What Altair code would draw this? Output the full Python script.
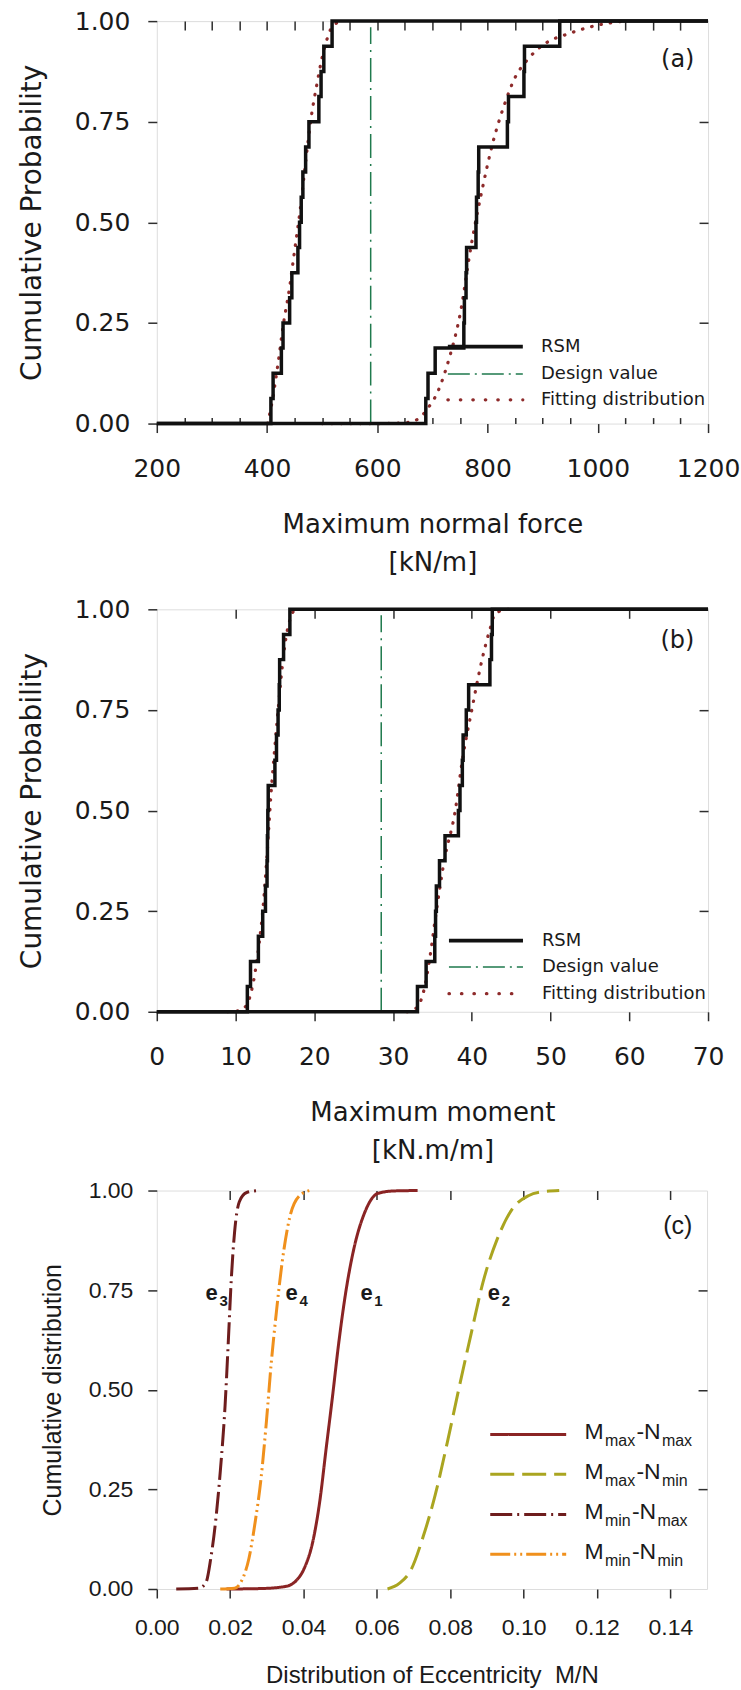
import altair as alt
import pandas as pd

# ---------------- panel (a): maximum normal force [kN/m] ----------------
a_rsm_first = [407, 411, 426, 429, 441, 445, 456, 459, 462, 465, 470, 476, 494, 498, 503, 518]
a_rsm_second = [688, 692, 705, 757, 758, 761, 762, 779, 780, 783, 784, 836, 838, 866, 867, 931]
a_fit_first_x = [401, 410, 420, 430, 440, 450, 460, 470, 480, 490, 500, 510, 520, 538]
a_fit_first_p = [0.0, 0.06, 0.15, 0.25, 0.33, 0.43, 0.53, 0.65, 0.76, 0.84, 0.91, 0.96, 0.99, 1.0]
a_fit_second_x = [500, 600, 650, 675, 690, 710, 730, 750, 770, 790, 810, 830, 850, 870, 900, 950, 1000, 1050]
a_fit_second_p = [0.0, 0.0, 0.002, 0.012, 0.035, 0.08, 0.16, 0.27, 0.44, 0.58, 0.70, 0.79, 0.86, 0.90, 0.94, 0.97, 0.99, 1.0]
a_design = 588
a_domain = [200, 1200]
a_ticks = [200, 400, 600, 800, 1000, 1200]
a_top_ticks = [250, 300, 350, 400, 450, 500, 550, 600, 650, 700, 750, 800, 850, 900, 950, 1000, 1050, 1100, 1150]
a_minor_ticks = [250, 300, 350, 450, 500, 550, 650, 700, 750, 850, 900, 950, 1050, 1100, 1150]

# ---------------- panel (b): maximum moment [kN.m/m] ----------------
b_rsm_first = [11.5, 11.9, 12.9, 13.45, 13.8, 14.0, 14.05, 14.1, 14.15, 15.0, 15.2, 15.4, 15.55, 15.6, 16.1, 16.9]
b_rsm_second = [33.1, 34.2, 35.3, 35.4, 35.5, 35.9, 36.6, 38.3, 38.5, 38.8, 38.9, 39.3, 39.6, 42.3, 42.5, 42.6]
b_fit_first_x = [9.0, 10.5, 11.5, 12.0, 12.5, 13.0, 13.5, 14.0, 14.5, 15.0, 15.5, 16.0, 16.5, 17.0, 17.5]
b_fit_first_p = [0.0, 0.003, 0.02, 0.05, 0.10, 0.17, 0.26, 0.39, 0.54, 0.66, 0.77, 0.87, 0.94, 0.98, 1.0]
b_fit_second_x = [31.8, 33.0, 34.0, 34.6, 35.5, 36.5, 37.9, 38.8, 40.0, 41.3, 42.3, 43.0, 44.6]
b_fit_second_p = [0.0, 0.01, 0.06, 0.125, 0.25, 0.375, 0.5, 0.625, 0.75, 0.875, 0.95, 0.99, 1.0]
b_design = 28.5
b_domain = [0, 70]
b_ticks = [0, 10, 20, 30, 40, 50, 60, 70]
b_top_ticks = [10, 20, 30, 40, 50, 60]

# ---------------- panel (c): eccentricity M/N ----------------
c_e1_x = [0.019, 0.028, 0.0349, 0.0381, 0.0401, 0.0427, 0.0444, 0.0462, 0.0479, 0.0495, 0.0514, 0.0538, 0.0566, 0.0603, 0.0648, 0.0711]
c_e1_p = [0.0, 0.001, 0.006, 0.022, 0.05, 0.126, 0.218, 0.355, 0.483, 0.61, 0.738, 0.857, 0.943, 0.993, 0.999, 1.0]
c_e2_x = [0.0629, 0.0661, 0.0694, 0.0726, 0.0759, 0.0792, 0.0824, 0.0857, 0.0889, 0.0928, 0.0967, 0.1013, 0.1052, 0.1097]
c_e2_p = [0.0, 0.014, 0.05, 0.131, 0.236, 0.368, 0.505, 0.641, 0.769, 0.878, 0.951, 0.987, 0.997, 1.0]
c_e3_x = [0.0053, 0.0115, 0.0134, 0.0147, 0.016, 0.0173, 0.0186, 0.0195, 0.0203, 0.0212, 0.0225, 0.0245, 0.0277]
c_e3_p = [0.0, 0.002, 0.016, 0.076, 0.167, 0.294, 0.458, 0.622, 0.776, 0.895, 0.972, 0.995, 1.0]
c_e4_x = [0.0173, 0.0212, 0.0232, 0.0251, 0.0268, 0.0284, 0.0299, 0.0312, 0.0326, 0.0342, 0.0362, 0.0388, 0.0417]
c_e4_p = [0.0, 0.002, 0.022, 0.076, 0.167, 0.276, 0.422, 0.567, 0.695, 0.822, 0.931, 0.986, 1.0]
c_domain = [0, 0.15]
c_ticks = [0.0, 0.02, 0.04, 0.06, 0.08, 0.10, 0.12, 0.14]
c_top_ticks = [0.02, 0.04, 0.06, 0.08, 0.10, 0.12, 0.14]
c_series = ["e1", "e2", "e3", "e4"]
c_legend_main = ["M", "M", "M", "M"]
c_legend_sub1 = ["max", "max", "min", "min"]
c_legend_sub2 = ["max", "min", "max", "min"]

y_ticks = [0.0, 0.25, 0.5, 0.75, 1.0]
y_inner = [0.25, 0.5, 0.75]

# ---------------- styles ----------------
F_AB = "DejaVu Sans"
F_C = "Liberation Sans"
INK = "#1a1a1a"
FRAME = "#2e2e2e"
RSM_C = "#111111"
FIT_C = "#8e2b2b"
DES_C = "#1f7a4d"
C_COL = {"e1": "#8a2424", "e2": "#aaa520", "e3": "#6e1d1d", "e4": "#f0901c"}
C_DASH = {"e1": [1, 0], "e2": [24, 8], "e3": [22, 5, 2, 5], "e4": [20, 4, 2, 4, 2, 4]}

W_AB, H_AB = 552, 403
W_C, H_C = 551, 399
YS = alt.Scale(domain=[0, 1], nice=False, zero=False)


def xscale(dom):
    return alt.Scale(domain=dom, nice=False, zero=False)


def step_frame(samples, lo, hi):
    n = len(samples)
    xs = [lo] + list(samples) + [hi]
    ps = [0.0] + [(i + 1) / n for i in range(n)] + [1.0]
    return pd.DataFrame({"x": xs, "p": ps, "k": list(range(len(xs)))})


def curve_frame(xs, ps):
    return pd.DataFrame({"x": xs, "p": ps, "k": list(range(len(xs)))})


def carrier(dom):
    return pd.DataFrame({"x": [dom[0], dom[1]], "p": [0.0, 1.0]})


def enc_xy(dom):
    return dict(x=alt.X("x:Q", scale=xscale(dom), axis=None),
                y=alt.Y("p:Q", scale=YS, axis=None))


def axis_layers(dom, ticks, top_ticks, fmt, font, lab_size, title_x, title_y, title_size_x,
                title_size_y, lab_pad_x, lab_pad_y, t_pad_x, t_pad_y, minor=None, line_h=38):
    main = alt.Chart(carrier(dom)).mark_point(opacity=0).encode(
        x=alt.X("x:Q", scale=xscale(dom), title=title_x,
                axis=alt.Axis(orient="bottom", values=ticks, format=fmt, tickSize=9, tickWidth=1.5,
                              tickColor=FRAME, domain=False, grid=False, labelFont=font,
                              labelFontSize=lab_size, labelColor=INK, labelPadding=lab_pad_x,
                              labelFlush=False, labelOverlap=False, titleFont=font,
                              titleFontSize=title_size_x, titleFontWeight="normal", titleColor=INK,
                              titlePadding=t_pad_x, titleLineHeight=line_h)),
        y=alt.Y("p:Q", scale=YS, title=title_y,
                axis=alt.Axis(orient="left", values=y_ticks, format=".2f", tickSize=9, tickWidth=1.5,
                              tickColor=FRAME, domain=False, grid=False, labelFont=font,
                              labelFontSize=lab_size, labelColor=INK, labelPadding=lab_pad_y,
                              labelFlush=False, labelOverlap=False, titleFont=font,
                              titleFontSize=title_size_y, titleFontWeight="normal", titleColor=INK,
                              titlePadding=t_pad_y)),
    )
    inner = alt.Chart(carrier(dom)).mark_point(opacity=0).encode(
        x=alt.X("x:Q", scale=xscale(dom), title=None,
                axis=alt.Axis(orient="top", offset=-9, values=top_ticks, tickSize=9, tickWidth=1.5,
                              tickColor=FRAME, labels=False, domain=False, grid=False)),
        y=alt.Y("p:Q", scale=YS, title=None,
                axis=alt.Axis(orient="right", offset=-9, values=y_inner, tickSize=9, tickWidth=1.5,
                              tickColor=FRAME, labels=False, domain=False, grid=False)),
    )
    layers = [main, inner]
    if minor is not None:
        layers.append(alt.Chart(carrier(dom)).mark_point(opacity=0).encode(
            x=alt.X("x:Q", scale=xscale(dom), title=None,
                    axis=alt.Axis(orient="bottom", offset=-6, values=minor, tickSize=6, tickWidth=1.5,
                                  tickColor=FRAME, labels=False, domain=False, grid=False)),
            y=alt.Y("p:Q", scale=YS, axis=None)))
    return layers


def ab_panel(dom, ticks, top_ticks, minor, rsm1, rsm2, fit1, fit2, design, xtitle, tag, tag_xy, leg):
    layers = axis_layers(dom, ticks, top_ticks, "d", F_AB, 25, xtitle, "Cumulative Probability",
                         26, 28, 24, 18, 30, 28, minor=minor)
    # design value line
    des = pd.DataFrame({"x": [design], "p": [0.0], "p2": [0.985]})
    layers.append(alt.Chart(des).mark_rule(color=DES_C, strokeWidth=1.5, strokeDash=[24, 6, 2, 6]).encode(
        x=alt.X("x:Q", scale=xscale(dom), axis=None), y=alt.Y("p:Q", scale=YS, axis=None), y2="p2:Q"))
    # fitted distributions (dotted)
    for fx, fp in [fit1, fit2]:
        layers.append(alt.Chart(curve_frame(fx, fp)).mark_line(
            color=FIT_C, strokeWidth=3.2, strokeDash=[0.5, 9], strokeCap="round", interpolate="monotone"
        ).encode(order="k:Q", **enc_xy(dom)))
    # RSM empirical steps
    for s in [rsm1, rsm2]:
        layers.append(alt.Chart(step_frame(s, dom[0], dom[1])).mark_line(
            color=RSM_C, strokeWidth=3.5, interpolate="step-after", strokeJoin="miter"
        ).encode(order="k:Q", **enc_xy(dom)))
    # legend
    x1, x2, xt, rows = leg
    styles = [dict(color=RSM_C, strokeWidth=3.8),
              dict(color=DES_C, strokeWidth=1.5, strokeDash=[22, 5, 2, 5]),
              dict(color=FIT_C, strokeWidth=3.2, strokeDash=[0.5, 12], strokeCap="round")]
    labels = ["RSM", "Design value", "Fitting distribution"]
    for st, lab, r in zip(styles, labels, rows):
        seg = pd.DataFrame({"x": [x1], "x2": [x2], "p": [r], "t": [lab], "xt": [xt]})
        layers.append(alt.Chart(seg).mark_rule(**st).encode(
            x=alt.X("x:Q", scale=xscale(dom), axis=None), x2="x2:Q",
            y=alt.Y("p:Q", scale=YS, axis=None)))
        layers.append(alt.Chart(seg).mark_text(align="left", baseline="middle", font=F_AB,
                                               fontSize=18, color=INK).encode(
            x=alt.X("xt:Q", scale=xscale(dom), axis=None), y=alt.Y("p:Q", scale=YS, axis=None),
            text="t:N"))
    tg = pd.DataFrame({"x": [tag_xy[0]], "p": [tag_xy[1]], "t": [tag]})
    layers.append(alt.Chart(tg).mark_text(align="center", baseline="middle", font=F_AB, fontSize=24,
                                          color=INK).encode(text="t:N", **enc_xy(dom)))
    return alt.layer(*layers).resolve_axis(x="independent", y="independent").properties(
        width=W_AB, height=H_AB)


pa = ab_panel(a_domain, a_ticks, a_top_ticks, a_minor_ticks, a_rsm_first, a_rsm_second,
              (a_fit_first_x, a_fit_first_p), (a_fit_second_x, a_fit_second_p), a_design,
              ["Maximum normal force", "[kN/m]"], "(a)", (1145, 0.903),
              (728, 864, 897, [0.191, 0.123, 0.059]))
pb = ab_panel(b_domain, b_ticks, b_top_ticks, None, b_rsm_first, b_rsm_second,
              (b_fit_first_x, b_fit_first_p), (b_fit_second_x, b_fit_second_p), b_design,
              ["Maximum moment", "[kN.m/m]"], "(b)", (66.1, 0.921),
              (37.1, 46.5, 48.9, [0.177, 0.111, 0.045]))

# ---------------- panel (c) ----------------
c_layers = axis_layers(c_domain, c_ticks, c_top_ticks, ".2f", F_C, 23,
                       "Distribution of Eccentricity\u00a0 M/N", "Cumulative distribution",
                       24, 25, 19, 15, 24, 23)
c_curves = {"e1": (c_e1_x, c_e1_p), "e2": (c_e2_x, c_e2_p), "e3": (c_e3_x, c_e3_p), "e4": (c_e4_x, c_e4_p)}
for name in c_series:
    cx, cp = c_curves[name]
    c_layers.append(alt.Chart(curve_frame(cx, cp)).mark_line(
        color=C_COL[name], strokeWidth=3, strokeDash=C_DASH[name], interpolate="monotone"
    ).encode(order="k:Q", **enc_xy(c_domain)))

# curve labels e1..e4
lab_x = {"e3": 0.0133, "e4": 0.0351, "e1": 0.0555, "e2": 0.0902}
for name in c_series:
    d = pd.DataFrame({"x": [lab_x[name]], "p": [0.742], "e": ["e"], "n": [name[1]]})
    c_layers.append(alt.Chart(d).mark_text(align="left", baseline="middle", font=F_C, fontSize=22,
                                           fontWeight="bold", color=INK).encode(
        text="e:N", **enc_xy(c_domain)))
    c_layers.append(alt.Chart(d).mark_text(align="left", baseline="middle", font=F_C, fontSize=15,
                                           fontWeight="bold", color=INK, dx=14, dy=8).encode(
        text="n:N", **enc_xy(c_domain)))

# legend for panel (c)
leg_line_p = [0.388, 0.288, 0.187, 0.087]
leg_text_p = [0.377, 0.277, 0.176, 0.076]
sub_w = {"max": 30.5, "min": 26.0}
for i, name in enumerate(c_series):
    seg = pd.DataFrame({"x": [0.0909], "x2": [0.1116], "p": [leg_line_p[i]]})
    c_layers.append(alt.Chart(seg).mark_rule(color=C_COL[name], strokeWidth=3,
                                             strokeDash=C_DASH[name]).encode(
        x=alt.X("x:Q", scale=xscale(c_domain), axis=None), x2="x2:Q",
        y=alt.Y("p:Q", scale=YS, axis=None)))
    d = pd.DataFrame({"x": [0.1166], "p": [leg_text_p[i]], "m": [c_legend_main[i]],
                      "s1": [c_legend_sub1[i]], "n": ["-N"], "s2": [c_legend_sub2[i]]})
    dx_n = 20.5 + sub_w[c_legend_sub1[i]] + 1
    pieces = [("m", 23, 0, 0), ("s1", 16, 20.5, 7.5), ("n", 23, dx_n, 0), ("s2", 16, dx_n + 25.5, 7.5)]
    for field, fs, dx, dy in pieces:
        c_layers.append(alt.Chart(d).mark_text(align="left", baseline="alphabetic", font=F_C,
                                               fontSize=fs, color=INK, dx=dx, dy=dy).encode(
            text=f"{field}:N", **enc_xy(c_domain)))

tgc = pd.DataFrame({"x": [0.142], "p": [0.911], "t": ["(c)"]})
c_layers.append(alt.Chart(tgc).mark_text(align="center", baseline="middle", font=F_C, fontSize=25,
                                         color=INK).encode(text="t:N", **enc_xy(c_domain)))

pc = alt.layer(*c_layers).resolve_axis(x="independent", y="independent").properties(
    width=W_C, height=H_C)

chart = alt.vconcat(alt.vconcat(pa, pb, spacing=20), pc, spacing=14).properties(
    padding={"left": 17, "top": 7, "right": 0, "bottom": 0}
).configure_view(stroke=FRAME, strokeWidth=1.5).configure(background="white")

chart.save("out.html", embed_options={"renderer": "svg", "actions": False})
